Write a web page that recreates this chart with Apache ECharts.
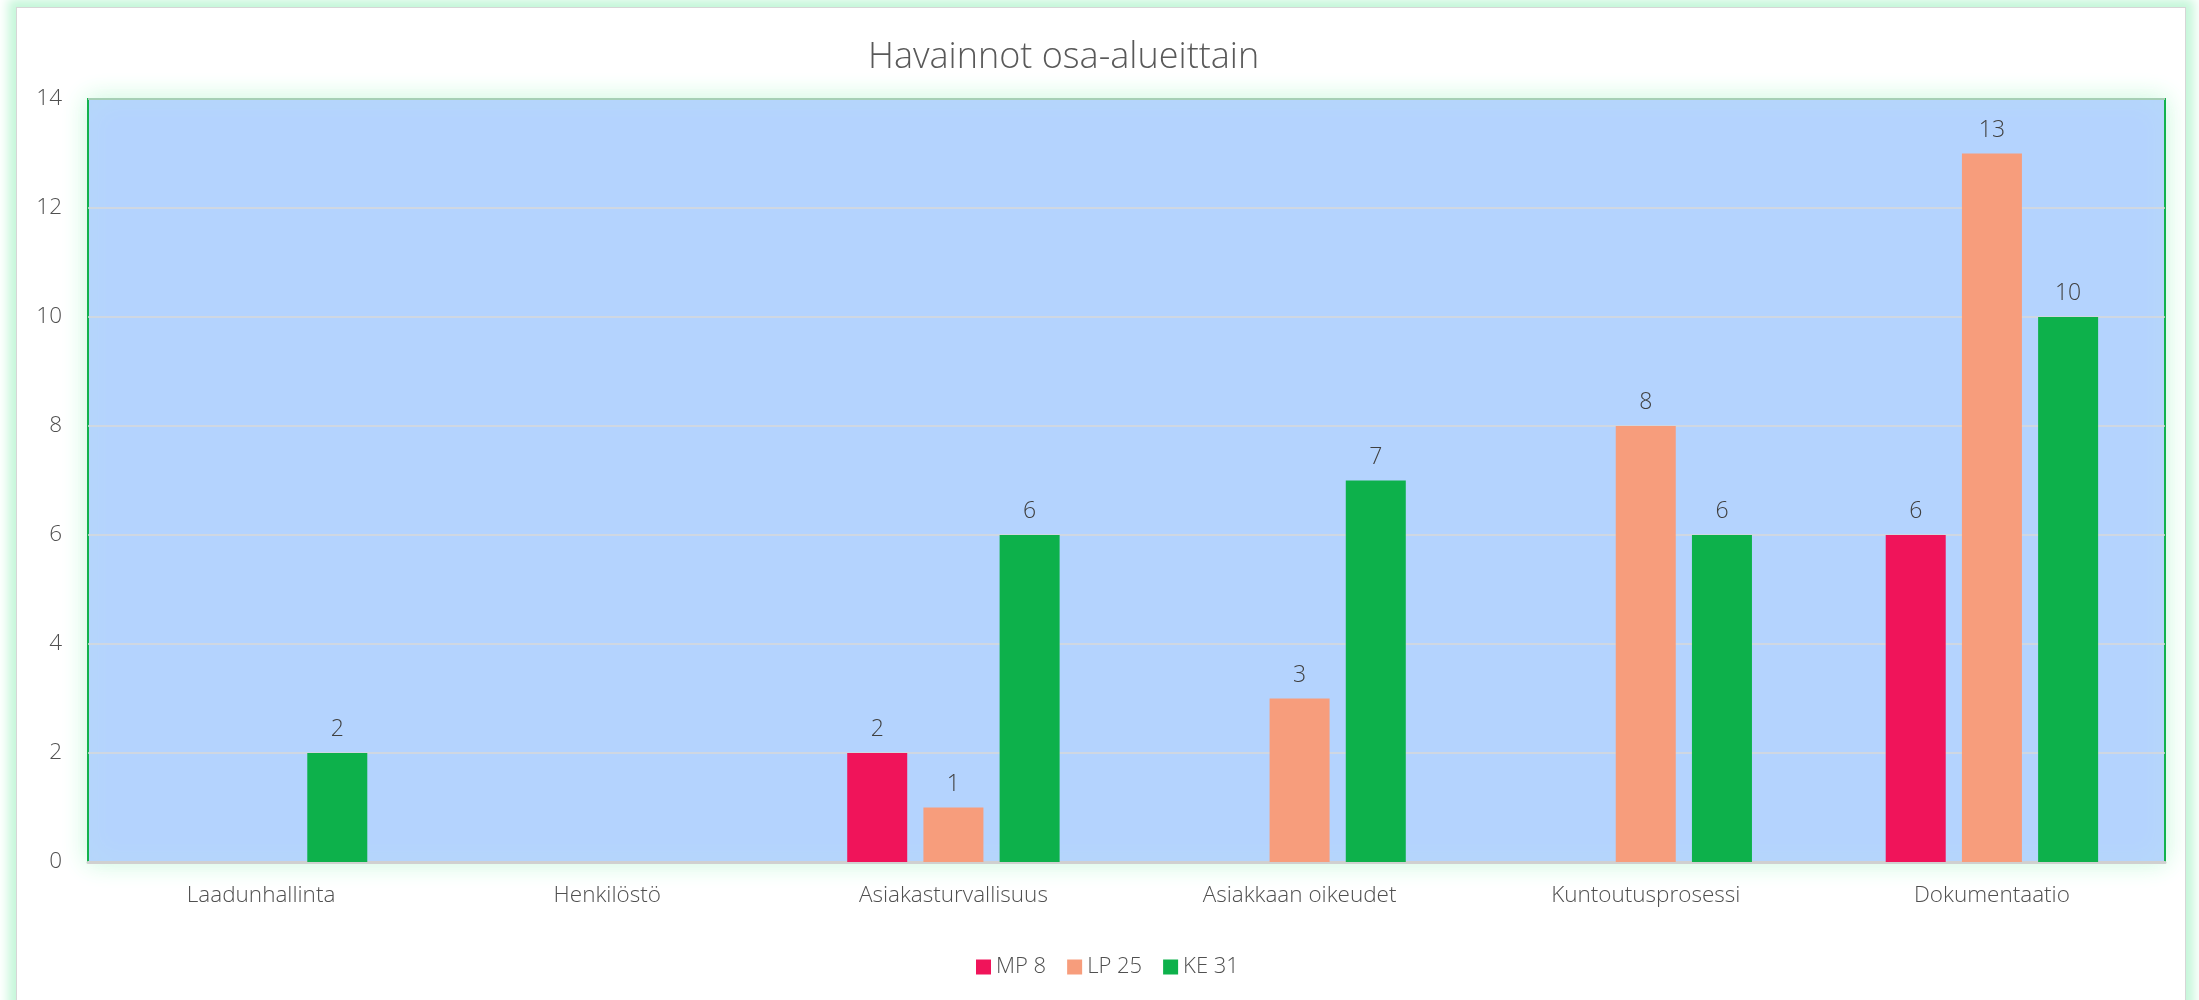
<!DOCTYPE html>
<html>
<head>
<meta charset="utf-8">
<title>Havainnot osa-alueittain</title>
<script src="https://cdn.jsdelivr.net/npm/echarts@6/dist/echarts.min.js"></script>
<style>
  html, body { margin: 0; padding: 0; background: #ffffff; overflow: hidden; }
  #frame {
    position: absolute; left: 16px; top: 7px;
    width: 2168px; height: 1020px;
    border: 1px solid #d6d6d6;
    box-shadow: 0 0 10px 8px #c6f7da;
    background: #ffffff;
  }
  #chart { width: 2168px; height: 1020px; }
</style>
</head>
<body>
<div id="frame"><div id="chart"></div></div>
<script>
// Chart data
var categories = ["Laadunhallinta", "Henkilöstö", "Asiakasturvallisuus", "Asiakkaan oikeudet", "Kuntoutusprosessi", "Dokumentaatio"];
var seriesNames = ["MP 8", "LP 25", "KE 31"];
var mpValues = [null, null, 2, null, null, 6];
var lpValues = [null, null, 1, 3, 8, 13];
var keValues = [2, null, 6, 7, 6, 10];
var seriesColors = ["#f0145a", "#f79d7c", "#0db14b"];

var font = "Open Sans";

function makeSeries(name, values, color) {
    return {
        name: name,
        type: "bar",
        data: values,
        barWidth: 60,
        barGap: "27%",
        itemStyle: { color: color },
        label: {
            show: true,
            position: "top",
            distance: 12,
            color: "#404040",
            fontFamily: font,
            fontWeight: 300,
            fontSize: 23
        }
    };
}

var myChart = echarts.init(document.getElementById("chart"));

var option = {
    animation: false,
    title: {
        text: "Havainnot osa-alueittain",
        left: 846,
        top: 27,
        textStyle: {
            color: "#595959",
            fontFamily: font,
            fontWeight: 300,
            fontSize: 36
        }
    },
    legend: {
        data: seriesNames,
        left: 954,
        top: 943,
        icon: "rect",
        itemWidth: 15,
        itemHeight: 15,
        itemGap: 21,
        textStyle: { color: "#505050", fontFamily: font, fontWeight: 300, fontSize: 22 }
    },
    grid: {
        show: true,
        left: 71,
        top: 91,
        width: 2077,
        height: 763,
        backgroundColor: "#b4d3fe",
        borderColor: "#12b24c",
        borderWidth: 2,
        shadowColor: "#c6f7da",
        shadowBlur: 24
    },
    xAxis: {
        type: "category",
        data: categories,
        axisTick: { show: false },
        axisLine: { show: true, lineStyle: { color: "#d0d0d0", width: 3 } },
        axisLabel: {
            margin: 22,
            color: "#505050",
            fontFamily: font,
            fontWeight: 300,
            fontSize: 22.5
        }
    },
    yAxis: {
        type: "value",
        min: 0,
        max: 14,
        interval: 2,
        axisLine: { show: false },
        axisTick: { show: false },
        splitLine: { lineStyle: { color: "#d9d9d9", width: 1.5 } },
        axisLabel: {
            margin: 26,
            color: "#505050",
            fontFamily: font,
            fontWeight: 300,
            fontSize: 22.5
        }
    },
    series: [
        makeSeries(seriesNames[0], mpValues, seriesColors[0]),
        makeSeries(seriesNames[1], lpValues, seriesColors[1]),
        makeSeries(seriesNames[2], keValues, seriesColors[2])
    ]
};

myChart.setOption(option);
</script>
</body>
</html>
